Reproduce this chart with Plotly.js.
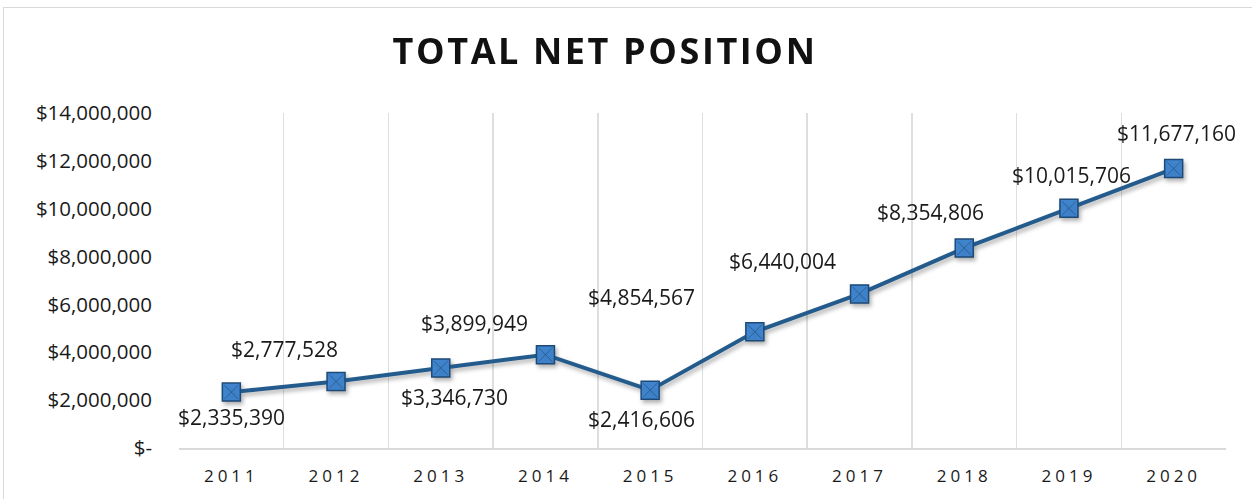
<!DOCTYPE html>
<html>
<head>
<meta charset="utf-8">
<script src="https://cdn.plot.ly/plotly-3.0.1.min.js"></script>
<style>
  html, body { margin: 0; padding: 0; background: #ffffff; }
  #wrap { position: relative; width: 1252px; height: 499px; overflow: hidden; }
  #frame { position: absolute; left: 3px; top: 7px; width: 1300px; height: 600px;
           border: 1.5px solid #d9d9d9; box-sizing: border-box; }
  #chart { position: absolute; left: 0; top: 0; width: 1252px; height: 499px; }
  .gtitle { letter-spacing: 2.6px; }
  .xtick text { letter-spacing: 4px; }
  .scatterlayer .trace { filter: drop-shadow(2px 3px 2px rgba(0,0,0,0.3)); }
</style>
</head>
<body>
<div id="wrap">
  <div id="frame"></div>
  <div id="chart"></div>
</div>
<script>
// ---- data ----
const years = ['2011','2012','2013','2014','2015','2016','2017','2018','2019','2020'];
const netPosition = [2335390, 2777528, 3346730, 3899949, 2416606, 4854567, 6440004, 8354806, 10015706, 11677160];
const yTickVals = [0, 2000000, 4000000, 6000000, 8000000, 10000000, 12000000, 14000000];
const yTickText = ['$-', '$2,000,000', '$4,000,000', '$6,000,000', '$8,000,000', '$10,000,000', '$12,000,000', '$14,000,000'];
const chartTitle = 'TOTAL NET POSITION';

// label pixel offsets (placement, as in the reference)
const labelDx = [0, -52, 14, -71, -9, -113, -77, -34, 3, 3];
const labelDy = [-25, 33, -29, 32, -29, 35, 33, 36, 33, 36];

const fmt = v => '$' + v.toLocaleString('en-US');
const FONT = '"Open Sans", "Liberation Sans", sans-serif';

const traces = [
  {
    x: years, y: netPosition, type: 'scatter', mode: 'lines+markers',
    line: { color: '#245b8d', width: 4 },
    marker: { symbol: 'square', size: 18, color: '#3f84cc',
              line: { color: '#1d4a78', width: 1.5 } },
    hoverinfo: 'skip', cliponaxis: false
  },
  {
    x: years, y: netPosition, type: 'scatter', mode: 'markers',
    marker: { symbol: 'x-thin-open', size: 14, color: 'rgba(20,55,95,0.45)',
              line: { color: 'rgba(20,55,95,0.45)', width: 1 } },
    hoverinfo: 'skip', cliponaxis: false
  }
];

// category index positions on the category axis
const annotations = years.map((yr, i) => ({
  x: i, y: netPosition[i], xref: 'x', yref: 'y',
  text: fmt(netPosition[i]), showarrow: false,
  xshift: labelDx[i], yshift: labelDy[i],
  xanchor: 'center', yanchor: 'middle',
  font: { family: FONT, size: 21, color: '#1a1a1a' }
}));

const layout = {
  width: 1252, height: 499,
  margin: { l: 179, r: 26, t: 113, b: 51 },
  paper_bgcolor: 'rgba(0,0,0,0)', plot_bgcolor: 'rgba(0,0,0,0)',
  showlegend: false,
  title: { text: chartTitle, x: 605 / 1252, xref: 'container', xanchor: 'center',
           y: 1 - 51 / 499, yref: 'container', yanchor: 'middle',
           font: { family: FONT, size: 36, weight: 700, color: '#111111' } },
  xaxis: {
    type: 'category', range: [-0.5, 9.5], tickson: 'boundaries',
    showgrid: true, gridcolor: '#dedede', gridwidth: 1.5,
    showline: true, linecolor: '#d9d9d9', linewidth: 1.5,
    ticks: '', ticklabelstandoff: 12,
    tickfont: { family: FONT, size: 17, color: '#1a1a1a' },
    fixedrange: true, zeroline: false
  },
  yaxis: {
    range: [0, 14000000], tickvals: yTickVals, ticktext: yTickText,
    showgrid: false, showline: false, zeroline: false, ticks: '',
    ticklabelstandoff: 26,
    tickfont: { family: FONT, size: 20.5, color: '#1a1a1a' },
    fixedrange: true
  },
  annotations: annotations
};

Plotly.newPlot('chart', traces, layout, { displayModeBar: false, staticPlot: true });
</script>
</body>
</html>
